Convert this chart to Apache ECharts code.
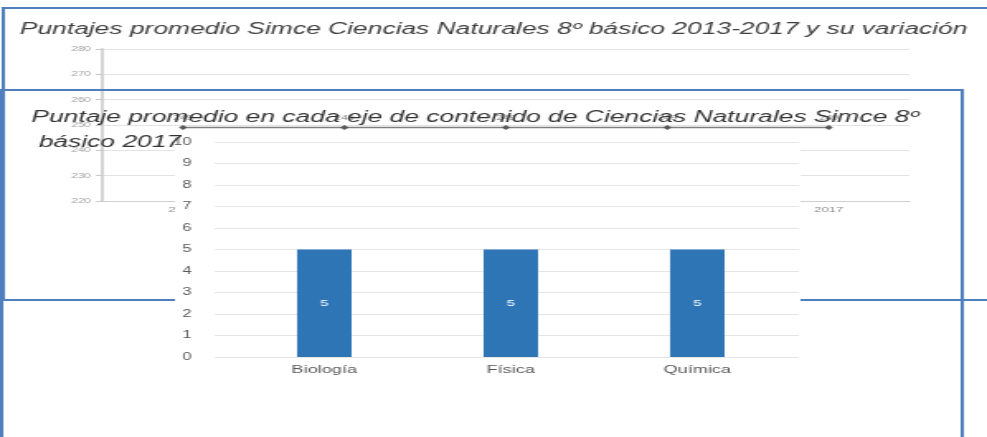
<!DOCTYPE html>
<html lang="es">
<head>
    <meta charset="UTF-8">
    <title>Simce Ciencias Naturales</title>
    <script src="https://cdn.jsdelivr.net/npm/echarts@6/dist/echarts.min.js"></script>
    <style>
        html, body { margin: 0; padding: 0; background: #fff; overflow: hidden; }
        /* la imagen original esta estirada a lo ancho */
        #main { width: 598px; height: 437px; transform: scaleX(1.6505); transform-origin: 0 0; }
    </style>
</head>
<body>
    <div id="main"></div>
    <script type="text/javascript">
        // grafico de fondo: puntajes 2013-2017
        var backYears = ['2013', '2014', '2015', '2016', '2017'];
        var backScores = [249, 249, 249, 249, 249];
        var backTicks = [220, 230, 240, 250, 260, 270, 280];

        // grafico del frente: ejes de contenido 2017
        var ejes = ['Biología', 'Física', 'Química'];
        var ejeScores = [5, 5, 5];
        var ejeTicks = [0, 1, 2, 3, 4, 5, 6, 7, 8, 9, 10];

        var blue = '#4f7fbe';
        var gray = '#8c8c8c';

        var myChart = echarts.init(document.getElementById('main'));

        var option = {
            animation: false,
            backgroundColor: '#fff',
            textStyle: { fontFamily: 'Liberation Sans, Arial, sans-serif' },
            title: [{
                text: 'Puntajes promedio Simce Ciencias Naturales 8º básico 2013-2017 y su variación',
                left: 12, top: 22, padding: 0, z: 1,
                textStyle: { fontSize: 16, fontStyle: 'italic', fontWeight: 'normal', color: '#404040' }
            }, {
                text: 'Puntaje promedio en cada eje de contenido de Ciencias Naturales Simce 8º\n básico 2017',
                left: 19, top: 105, padding: 0, z: 10,
                textStyle: { fontSize: 16, fontStyle: 'italic', fontWeight: 'normal', color: '#333', lineHeight: 25 }
            }],
            grid: [
                // fondo
                { left: 62, right: 47, top: 49, bottom: 236 },
                // barras
                { left: 140, right: 119, top: 142, bottom: 80 },
                // lineas de division del frente
                { left: 130, right: 114, top: 142, bottom: 80 }
            ],
            xAxis: [{
                type: 'category', gridIndex: 0, data: backYears, z: 1,
                axisLine: { lineStyle: { color: '#d0d0d0' } },
                axisTick: { show: false },
                axisLabel: { fontSize: 8, color: gray, margin: 5 }
            }, {
                type: 'category', gridIndex: 1, data: ejes, z: 10,
                axisLine: { show: false }, axisTick: { show: false },
                axisLabel: { fontSize: 11, color: '#595959', margin: 7 }
            }, {
                type: 'category', gridIndex: 2, data: ejes, z: 10, show: false
            }],
            yAxis: [{
                type: 'value', gridIndex: 0, z: 1,
                min: backTicks[0], max: backTicks[backTicks.length - 1], interval: 10,
                axisLine: { show: true, lineStyle: { color: '#d4d4d4', width: 2 } },
                axisTick: { show: true, length: 4, lineStyle: { color: '#c8c8c8' } },
                axisLabel: { fontSize: 7, color: '#a0a0a0', margin: 7 },
                splitLine: { lineStyle: { color: '#e3e3e3' } }
            }, {
                type: 'value', gridIndex: 1, z: 10,
                min: 0, max: 10, interval: 1,
                axisLabel: { show: false }, splitLine: { show: false },
                axisLine: { show: false }, axisTick: { show: false }
            }, {
                type: 'value', gridIndex: 2, z: 10,
                min: ejeTicks[0], max: ejeTicks[ejeTicks.length - 1], interval: 1,
                axisLine: { show: false }, axisTick: { show: false },
                axisLabel: { fontSize: 10, color: '#595959', margin: 14 },
                splitLine: { lineStyle: { color: '#e6e6e6' } }
            }],
            graphic: [{
                type: 'rect', z: 1,
                shape: { x: 2, y: 8, width: 700, height: 292 },
                style: { fill: 'none', stroke: blue, lineWidth: 2 }
            }, {
                type: 'rect', z: 5,
                shape: { x: 106, y: 137, width: 379, height: 290 },
                style: { fill: '#fff' }
            }, {
                type: 'rect', z: 12,
                shape: { x: 1, y: 90, width: 582, height: 400 },
                style: { fill: 'none', stroke: blue, lineWidth: 2 }
            }],
            series: [{
                name: 'Puntaje',
                type: 'line',
                xAxisIndex: 0, yAxisIndex: 0, z: 2,
                data: backScores,
                symbol: 'diamond', symbolSize: 5,
                lineStyle: { color: '#7f7f7f', width: 1.5 },
                itemStyle: { color: '#595959' },
                label: { show: true, position: 'top', fontSize: 7, color: '#808080', distance: 3 }
            }, {
                name: 'Eje',
                type: 'bar',
                xAxisIndex: 1, yAxisIndex: 1, z: 11,
                data: ejeScores,
                barWidth: 33,
                itemStyle: { color: '#2e75b6' },
                label: { show: true, position: 'inside', fontSize: 9, color: '#fff' }
            }]
        };

        myChart.setOption(option);
    </script>
</body>
</html>
